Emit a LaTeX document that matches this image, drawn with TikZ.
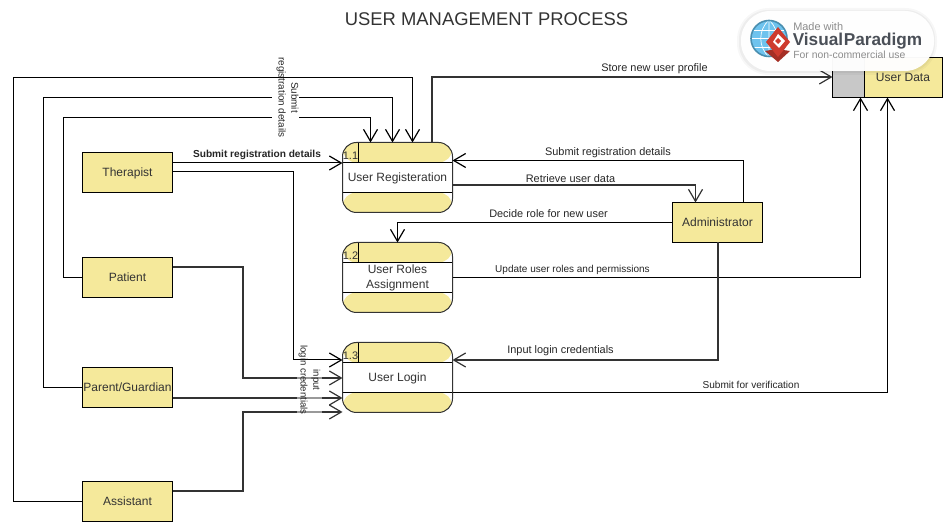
\documentclass[tikz,border=0pt]{standalone}
\usepackage{fontspec}
\setmainfont{Liberation Sans}
\usetikzlibrary{arrows.meta,calc}
\definecolor{yel}{HTML}{F5E99B}
\definecolor{txt}{HTML}{333333}
\definecolor{gry}{HTML}{C8C8C8}
\definecolor{wmgray}{HTML}{8C8C8C}
\definecolor{wmdark}{HTML}{4A4F57}
\definecolor{wmblue}{HTML}{6EC3EE}
\definecolor{wmring}{HTML}{4A8FB0}
\definecolor{wmred}{HTML}{CE3B2E}
\tikzset{
 x=0.75pt,y=-0.75pt,
 low text/.style={text height=7.6pt,text depth=1.9pt},
 ent/.style={low text,draw=black,fill=yel,line width=0.75pt,minimum width=67.5pt,minimum height=30pt,inner sep=0pt,outer sep=0pt,font=\fontsize{9}{11}\selectfont,text=txt},
 proc/.style={draw=black!80,fill=white,line width=0.75pt,minimum width=82.5pt,minimum height=52.5pt,inner sep=0pt,outer sep=0pt,rounded corners=10.5pt,align=center,font=\fontsize{9}{11.3}\selectfont,text=txt,
  path picture={
   \fill[yel] (path picture bounding box.north west) rectangle ([yshift=-15pt]path picture bounding box.north east);
   \fill[yel] (path picture bounding box.south west) rectangle ([yshift=15pt]path picture bounding box.south east);
   \draw[black,line width=0.75pt] ([yshift=-15pt]path picture bounding box.north west) -- ([yshift=-15pt]path picture bounding box.north east);
   \draw[black,line width=0.75pt] ([yshift=15pt]path picture bounding box.south west) -- ([yshift=15pt]path picture bounding box.south east);
   \draw[black,line width=0.75pt] ([xshift=12pt]path picture bounding box.north west) -- ([xshift=12pt,yshift=-15pt]path picture bounding box.north west);
  }},
 num/.style={font=\fontsize{8.2}{10}\selectfont,text=txt,inner sep=0pt,anchor=center},
 con/.style={draw=black,line width=0.75pt,-{Straight Barb[length=9pt,width=10.5pt,line width=0.9pt]}},
 heavy/.style={con,draw=black!80,line width=0.95pt},
 lab/.style={font=\fontsize{8.2}{9}\selectfont,text=black!85,inner sep=0pt},
 vlab/.style={text=black!85,rotate=-90,align=center,inner sep=1pt},
}
\begin{document}
\begin{tikzpicture}
\useasboundingbox (0,0) rectangle (943,523);
\fill[white] (0,0) rectangle (943,523);
\node[font=\fontsize{13.8}{17}\selectfont,text=txt,inner sep=0pt] (title) at (486.5,19) {USER MANAGEMENT PROCESS};

\node[ent] (ther) at (127.5,172.5) {Therapist};
\node[ent] (pat) at (127.5,277.5) {Patient};
\node[ent] (par) at (127.5,387.5) {Parent/Guardian};
\node[ent] (asst) at (127.5,501.5) {Assistant};
\node[ent] (adm) at (717.5,222.5) {Administrator};
\node[proc,low text] (p1) at (397.5,177.5) {User Registeration};
\node[proc] (p2) at (397.5,277.5) {User Roles\\Assignment};
\node[proc,low text] (p3) at (397.5,377.5) {User Login};
\node[num] (n1) at (350.5,155.5) {1.1};
\node[num] (n2) at (350.5,255.5) {1.2};
\node[num] (n3) at (350.5,355.5) {1.3};

% data store
\node[draw=black,fill=yel,line width=0.75pt,minimum width=82.5pt,minimum height=30pt,inner sep=0pt,outer sep=0pt] (store) at (887.5,77.5) {};
\fill[gry,draw=black,line width=0.75pt] (832.5,57.5) rectangle (864.5,97.5);
\node[font=\fontsize{9}{11}\selectfont,text=txt,inner sep=0pt] (storelab) at (903,77.5) {User Data};

% flows into User Registeration
\draw[con] (asst.west) -- (13.5,501.5) -- (13.5,77.5) -- (412.5,77.5) -- ($(p1.north)+(15,0)$);
\draw[con] (par.west) -- (43.5,387.5) -- (43.5,97.5) -- (392.5,97.5) -- ($(p1.north)+(-5,0)$);
\draw[con] (pat.west) -- (63.5,277.5) -- (63.5,117.5) -- (370.5,117.5) -- ($(p1.north)+(-27,0)$);
\draw[con] ($(ther.east)+(0,-10)$) -- (257,162.5) -- (257,163) -- ($(p1.west)+(0,-14.5)$);
\draw[con] ($(adm.north)+(26,0)$) -- (743.5,160.5) -- ($(p1.east)+(0,-17)$);
\draw[heavy] ($(p1.east)+(0,7.5)$) -- (695.5,185) -- ($(adm.north)+(-22,0)$);
\draw[heavy] ($(p1.north)+(34.5,0)$) -- (432,77) -- ($(store.west)+(0,-0.5)$);
\draw[con] (adm.west) -- (397.5,222.5) -- (p2.north);
\draw[con] (p2.east) -- (860.5,277.5) -- ($(store.south)+(-27,0)$);
\draw[heavy] ($(adm.south)+(0.5,0)$) -- (718,360) -- ($(p3.east)+(0,-17.5)$);
\draw[con] ($(p3.east)+(0,15)$) -- (887.5,392.5) -- (store.south);

% flows into User Login
\draw[con] ($(ther.east)+(0,-0.5)$) -- (293.5,172) -- (293.5,360) -- ($(p3.west)+(0,-17.5)$);
\draw[heavy] ($(pat.east)+(0,-10.5)$) -- (243,267) -- (243,378) -- ($(p3.west)+(0,0.5)$);
\draw[heavy] ($(par.east)+(0,10.5)$) -- ($(p3.west)+(0,20.5)$);
\draw[heavy] ($(asst.east)+(0,-10.5)$) -- (243,491) -- (243,412) -- ($(p3.west)+(0,34.5)$);

% labels
\node[lab,font=\fontsize{7.6}{9}\selectfont\bfseries] (l1) at (257,154.5) {Submit registration details};
\node[lab] (l2) at (654.5,69) {Store new user profile};
\node[lab] (l3) at (608,153) {Submit registration details};
\node[lab] (l4) at (570.5,179) {Retrieve user data};
\node[lab] (l5) at (548.5,214) {Decide role for new user};
\node[lab,font=\fontsize{7.5}{9}\selectfont] (l6) at (572.5,270) {Update user roles and permissions};
\node[lab] (l7) at (560.5,351) {Input login credentials};
\node[lab,font=\fontsize{7.55}{9}\selectfont] (l8) at (751,384.5) {Submit for verification};
\fill[white] (272,90) rectangle (299,125);
\node[vlab,font=\fontsize{7.4}{9.6}\selectfont] (l9) at (287.5,97.5) {Submit\\registration details};
\fill[white,opacity=.5] (297,368) rectangle (322,417);
\node[vlab,font=\fontsize{7.2}{9.6}\selectfont] (l10) at (309.5,380) {input\\login credentials};

% watermark
\fill[black,opacity=.03,rounded corners=24pt] (737,8) rectangle (937,75);
\fill[black,opacity=.04,rounded corners=22pt] (739,10) rectangle (935,73);
\fill[white,opacity=.97,rounded corners=22pt] (741,11) rectangle (934,71);
\fill[wmblue] (769,38.5) circle (18);
\draw[wmring,line width=1.2pt] (769,38.5) circle (18);
\begin{scope}
\clip (769,38.5) circle (17);
\draw[white,line width=0.5pt] (751,30) -- (787,30) (751,38.5) -- (787,38.5) (751,47) -- (787,47);
\draw[white,line width=0.5pt] (769,20) -- (769,57) (769,20) .. controls (758,30) and (758,47) .. (769,57) (769,20) .. controls (780,30) and (780,47) .. (769,57);
\end{scope}
\fill[wmred!80!black] (777,49) -- (790,51) -- (778,62) -- (765,51) -- cycle;
\fill[wmred] (778,27) -- (790,42) -- (778,57) -- (766,42) -- cycle;
\fill[white] (778,34) -- (785,41) -- (779,48) -- (773,42) -- cycle;
\fill[wmred] (778,38) -- (781,41) -- (778,44) -- (775,41) -- cycle;
\node[anchor=west,inner sep=0pt,text=wmgray,font=\fontsize{8.2}{10}\selectfont] (wm1) at (793,26.5) {Made with};
\node[anchor=west,inner sep=0pt,text=wmdark,font=\fontsize{12.9}{16}\selectfont\bfseries] (wm2) at (792.5,41) {Visual\kern0.5pt Paradigm};
\node[anchor=west,inner sep=0pt,text=wmgray,font=\fontsize{7.8}{10}\selectfont] (wm3) at (793,55) {For non-commercial use};
\end{tikzpicture}
\end{document}
